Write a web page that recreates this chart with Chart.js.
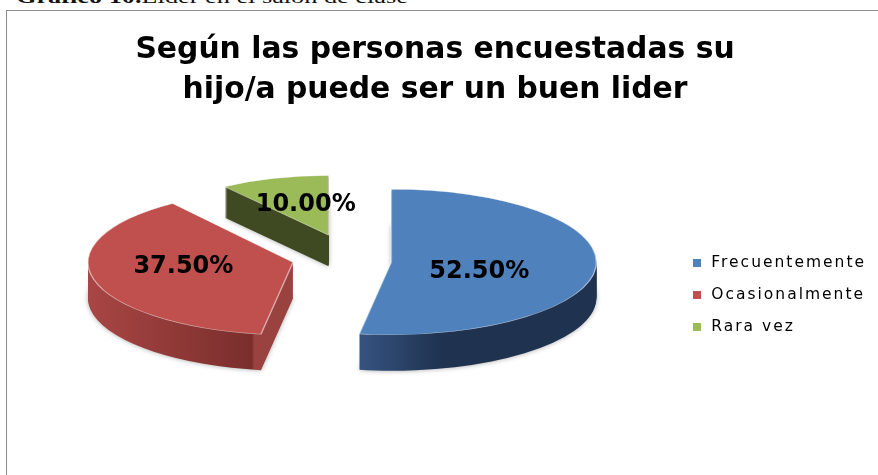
<!DOCTYPE html>
<html><head><meta charset="utf-8">
<style>
html,body{margin:0;padding:0;background:#fff;overflow:hidden}
#cap{position:absolute;left:16px;top:-13px;font:18px "Liberation Serif",serif;color:#111;white-space:nowrap;transform-origin:0 0;transform:scaleX(1.46)}
#frame{position:absolute;left:6px;top:10px;width:880px;height:480px;border:1px solid #8c8c8c;box-sizing:border-box}
canvas{position:absolute;left:0;top:0}
</style>
<script src="https://cdn.jsdelivr.net/npm/chart.js@4"></script>
</head><body>
<div id="cap"><b>Gráfico 10.</b>Líder en el salón de clase</div>
<div id="frame"></div>
<div style="position:absolute;left:0;top:0;width:878px;height:475px"><canvas id="c" width="878" height="475"></canvas></div>
<script>
const categories = ["Frecuentemente", "Ocasionalmente", "Rara vez"];
const seriesValues = [52.5, 37.5, 10];
const sliceLabels = ["52.50%", "37.50%", "10.00%"];
const titleLines = ["Según las personas encuestadas su", "hijo/a puede ser un buen lider"];
const topColors = ["#4f81bd", "#c0504d", "#9bbb59"];
const explode = [45, 55, 58];

// view of the tilted pie
const tilt = 0.355, lift = 40, panX = 10, legendSpacing = "2px";
const nudge = [6, 3, 0];                 // extra vertical move of each slice
const shrink = [[1, 1], [1, 1], [0.86, 0.82]]; // back slice looks smaller
const depth = [36, 36, 31];
const wallStops = [
  [[0, "#35527f"], [0.43, "#35527f"], [0.62, "#1f3350"], [1, "#1f3350"]],
  [[0, "#a84644"], [0.4, "#7a2e2c"], [0.405, "#9a4240"], [1, "#9a4240"]],
  [[0, "#3f4a23"], [1, "#3f4a23"]]
];
const labelAt = [0.43, 0.55, 0.42];
const labelShift = [7, -5, -7];

function legendSwatch(color){
  const s = document.createElement("canvas");
  s.width = 8; s.height = 8;
  const g = s.getContext("2d"); g.fillStyle = color; g.fillRect(0,0,8,8);
  return s;
}

const pie3d = {
  id: "pie3d",
  beforeLayout(chart) { chart.ctx.letterSpacing = legendSpacing; },
  afterLayout(chart) {
    const ctx = chart.ctx, legend = chart.legend;
    ctx.letterSpacing = "0px";
    if (!legend._spaced) {
      const drawLegend = legend.draw;
      legend.draw = function () {
        ctx.letterSpacing = legendSpacing;
        drawLegend.call(this);
        ctx.letterSpacing = "0px";
      };
      legend._spaced = true;
    }
  },
  beforeDatasetDraw(chart, args) {
    const ctx = chart.ctx, arcs = chart.getDatasetMeta(args.index).data;
    const place = (arc, i) => {
      const mid = (arc.startAngle + arc.endAngle) / 2, off = explode[i];
      return {
        mid,
        sx: arc.x + Math.cos(mid) * off + panX,
        sy: arc.y + Math.sin(mid) * off * tilt - lift + nudge[i]
      };
    };
    const apply = (arc, p, i, down) => {
      ctx.translate(p.sx, p.sy + down);
      ctx.scale(shrink[i][0], tilt * shrink[i][1]);
      ctx.translate(-arc.x, -arc.y);
    };
    // side walls, back slice first
    [2, 1, 0].forEach(i => {
      const arc = arcs[i], p = place(arc, i), R = arc.outerRadius;
      const grad = ctx.createLinearGradient(arc.x - R, 0, arc.x + R, 0);
      wallStops[i].forEach(s => grad.addColorStop(s[0], s[1]));
      const flat = Object.create(arc);
      flat.options = Object.assign({}, arc.options, {backgroundColor: grad, borderWidth: 0});
      for (let d = depth[i]; d > 0; d--) {
        ctx.save();
        if (d === depth[i]) { ctx.shadowColor = "rgba(0,0,0,.35)"; ctx.shadowBlur = 5; }
        apply(arc, p, i, d);
        flat.draw(ctx);
        ctx.restore();
      }
      ctx.save(); apply(arc, p, i, 0); arc.draw(ctx); ctx.restore();
    });
    // values
    ctx.save();
    ctx.font = "bold 24px 'DejaVu Sans'";
    ctx.fillStyle = "#000"; ctx.textAlign = "center"; ctx.textBaseline = "middle";
    arcs.forEach((arc, i) => {
      const p = place(arc, i), r = arc.outerRadius * labelAt[i];
      ctx.fillText(sliceLabels[i],
        p.sx + Math.cos(p.mid) * r * shrink[i][0],
        p.sy + Math.sin(p.mid) * r * tilt * shrink[i][1] + labelShift[i]);
    });
    ctx.restore();
    return false;
  }
};

new Chart(document.getElementById("c"), {
  type: "pie",
  plugins: [pie3d],
  data: {
    labels: categories,
    datasets: [{
      data: seriesValues,
      backgroundColor: topColors,
      borderColor: "rgba(255,255,255,.55)",
      borderWidth: 1.5
    }]
  },
  options: {
    responsive: false,
    animation: false,
    radius: 205,
    layout: {padding: {left: -6, right: 2, top: 30, bottom: 0}},
    plugins: {
      tooltip: {enabled: false},
      title: {
        display: true,
        text: titleLines,
        color: "#000",
        font: {family: "'DejaVu Sans'", size: 29.8, weight: "bold", lineHeight: 1.35},
        padding: {top: 0, bottom: 4}
      },
      legend: {
        position: "right",
        fullSize: false,
        labels: {
          color: "#222",
          font: {family: "'DejaVu Sans'", size: 15.5},
          padding: 16.5,
          boxHeight: 8,
          usePointStyle: true,
          pointStyleWidth: 14,
          generateLabels(chart) {
            return categories.map((t, i) => ({
              text: t, fillStyle: topColors[i], strokeStyle: topColors[i], lineWidth: 0,
              pointStyle: legendSwatch(topColors[i]), index: i, hidden: false
            }));
          }
        }
      }
    }
  }
});
</script>
</body></html>
